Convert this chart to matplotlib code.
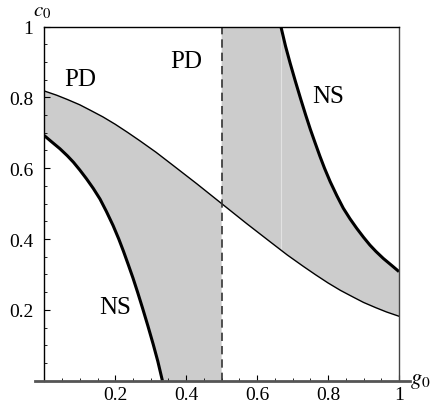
import numpy as np
import matplotlib
matplotlib.use("Agg")
import matplotlib.pyplot as plt

plt.rcParams['font.family'] = ['Liberation Serif', 'DejaVu Serif']
plt.rcParams['mathtext.fontset'] = 'stix'

# thin PD boundary
thin_g = [0, 0.035, 0.065, 0.1, 0.129, 0.165, 0.2, 0.235, 0.27, 0.315, 0.363, 0.43, 0.5,
          0.57, 0.637, 0.685, 0.73, 0.765, 0.8, 0.835, 0.871, 0.9, 0.935, 0.965, 1]
thin_c = [0.818, 0.806, 0.794, 0.779, 0.764, 0.745, 0.724, 0.701, 0.677, 0.645, 0.608, 0.556, 0.5,
          0.444, 0.392, 0.355, 0.323, 0.299, 0.276, 0.255, 0.236, 0.221, 0.206, 0.194, 0.182]

# thick NS curve, lower left
ns1_g = [0, 0.02, 0.044, 0.065, 0.082, 0.1, 0.119, 0.138, 0.157, 0.175, 0.194,
         0.21, 0.223, 0.237, 0.25, 0.263, 0.277, 0.292, 0.307, 0.32, 0.333]
ns1_c = [0.692, 0.675, 0.655, 0.635, 0.617, 0.595, 0.570, 0.543, 0.513, 0.478, 0.438,
         0.400, 0.366, 0.327, 0.290, 0.250, 0.205, 0.155, 0.103, 0.055, 0.0]

# thick NS curve, upper right
ns2_g = [0.667, 0.68, 0.693, 0.708, 0.723, 0.737, 0.75, 0.763, 0.777, 0.79, 0.806,
         0.825, 0.843, 0.862, 0.881, 0.9, 0.918, 0.935, 0.956, 0.98, 1.0]
ns2_c = [1.0, 0.945, 0.897, 0.845, 0.795, 0.75, 0.71, 0.673, 0.634, 0.6, 0.562,
         0.522, 0.487, 0.457, 0.43, 0.405, 0.383, 0.365, 0.345, 0.325, 0.308]

g_pd = 0.5   # dashed line
g_edge = 0.667  # faint seam in the shading

labels = [("PD", 0.10, 0.852), ("PD", 0.40, 0.904), ("NS", 0.80, 0.805), ("NS", 0.20, 0.207)]
ticks = [0.2, 0.4, 0.6, 0.8, 1.0]
tick_text = ["0.2", "0.4", "0.6", "0.8", "1"]

fig = plt.figure(figsize=(4.36, 4.10), dpi=100)
ax = fig.add_axes([0.1016, 0.069, 0.8135, 0.8639])

gray = '#cccccc'

# left shaded band: thin curve on top, NS curve below, dashed line on the right
tg = np.array(thin_g)
tc = np.array(thin_c)
left = tg <= g_pd
poly_x = list(tg[left]) + [g_pd] + ns1_g[::-1]
poly_y = list(tc[left]) + [0.0] + ns1_c[::-1]
ax.fill(poly_x, poly_y, color=gray, lw=0)

# right shaded band: thin curve below, NS curve / top edge above
right = tg >= g_pd
poly_x = list(tg[right]) + ns2_g[::-1] + [g_pd]
poly_y = list(tc[right]) + ns2_c[::-1] + [1.0]
ax.fill(poly_x, poly_y, color=gray, lw=0)

ax.plot([g_edge, g_edge], [np.interp(g_edge, thin_g, thin_c), 1], color='#e2e2e2', lw=0.8)

ax.plot(thin_g, thin_c, color='black', lw=1.0, solid_joinstyle='round')
ax.plot(ns1_g, ns1_c, color='black', lw=2.2, solid_capstyle='butt', solid_joinstyle='round')
ax.plot(ns2_g, ns2_c, color='black', lw=2.2, solid_capstyle='butt', solid_joinstyle='round')
ax.plot([g_pd, g_pd], [0, 1], color='#333333', lw=1.2, dashes=(5, 3))

for txt, x, y in labels:
    ax.text(x, y, txt, fontsize=18, ha='center', va='center')

ax.set_xlim(0, 1)
ax.set_ylim(0, 1)

ax.set_xticks(ticks)
ax.set_xticklabels(tick_text)
ax.set_yticks(ticks)
ax.set_yticklabels(tick_text)
ax.set_xticks(np.arange(0.05, 1.0, 0.05), minor=True)
ax.set_yticks(np.arange(0.05, 1.0, 0.05), minor=True)
ax.tick_params(which='major', direction='in', length=4, width=0.8, labelsize=14)
ax.tick_params(which='minor', direction='in', length=2, width=0.6)
ax.tick_params(axis='x', pad=4)
ax.tick_params(axis='y', pad=8)

ax.spines['bottom'].set_visible(False)
ax.spines['left'].set_linewidth(1.0)
ax.spines['top'].set_linewidth(1.0)
ax.spines['right'].set_linewidth(1.0)
ax.spines['right'].set_color('#444444')
ax.plot([-0.025, 1.03], [0, 0], color='#555555', lw=2.0, clip_on=False, zorder=5)

ax.text(1.03, 0.0, '$g_0$', fontsize=16, ha='left', va='center', clip_on=False)
ax.text(-0.005, 1.044, '$c_0$', fontsize=15, ha='center', va='center', clip_on=False)

fig.savefig('out.png', dpi=100)
